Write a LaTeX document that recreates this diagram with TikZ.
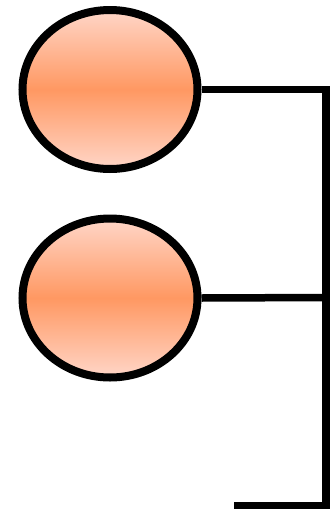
\documentclass[tikz,border=0pt]{standalone}
\usetikzlibrary{shapes.geometric}
\definecolor{peachlight}{RGB}{255,214,200}
\definecolor{peachmid}{RGB}{255,152,98}
\tikzset{
  bubble/.style={ellipse, draw=black, line width=8pt, minimum width=175pt, minimum height=159pt, inner sep=0pt,
    top color=peachlight, bottom color=peachlight, middle color=peachmid},
  wire/.style={line width=7.5pt, draw=black}
}
\begin{document}
\begin{tikzpicture}[x=1pt,y=-1pt]
\useasboundingbox (0,0) rectangle (332,509);
\node[bubble] (e1) at (110,89.5) {};
\node[bubble] (e2) at (110,298) {};
\coordinate (c1) at (326,89.5);
\coordinate (c2) at (326,297.5);
\coordinate (cb) at (326,505.5);
\coordinate (bl) at (234,505.5);
\coordinate (vtop) at (326,86);
\coordinate (vbot) at (326,509);
\draw[wire] (e1.east) -- (c1);
\draw[wire] (e2.east) -- (c2);
\draw[wire, line width=8pt] (vtop) -- (vbot);
\draw[wire] (bl) -- (cb);
\end{tikzpicture}
\end{document}
